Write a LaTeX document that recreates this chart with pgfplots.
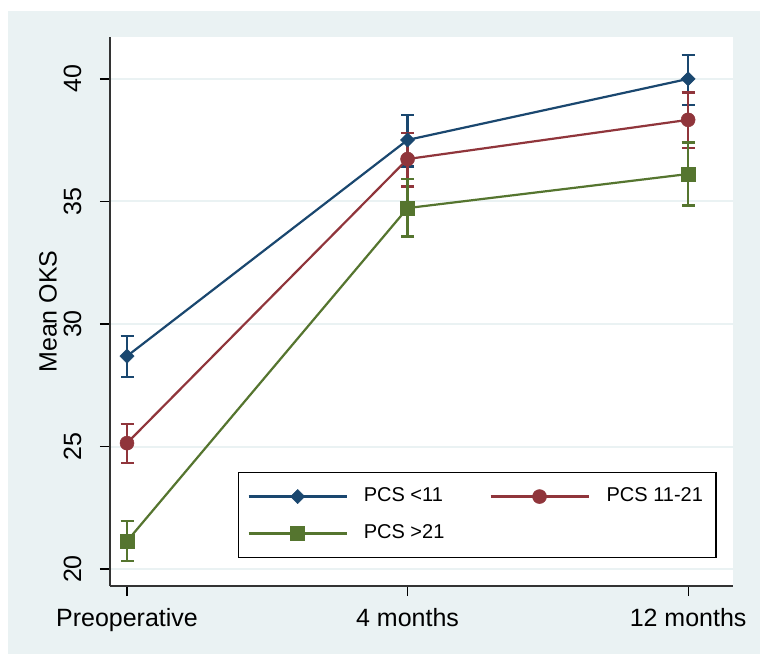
\documentclass[border=0pt]{standalone}
\usepackage{fontspec}
\setmainfont{Liberation Sans}
\usepackage{pgfplots}
\pgfplotsset{compat=1.18}
\definecolor{sbg}{RGB}{234,242,243}
\definecolor{snavy}{RGB}{26,71,111}
\definecolor{smaroon}{RGB}{144,53,59}
\definecolor{sgreen}{RGB}{85,117,47}
\begin{document}
\begin{tikzpicture}[x=1pt,y=1pt]
\path[use as bounding box] (0,0) rectangle (760,654);
\fill[white] (0,0) rectangle (760,654);
\fill[sbg] (8,0) rectangle (760,643);
\begin{axis}[
  at={(110pt,68pt)}, anchor=south west,
  scale only axis, width=623pt, height=549pt,
  xmin=-0.0606, xmax=2.160, ymin=19.31, ymax=41.71,
  axis background/.style={fill=white},
  axis lines*=left,
  axis line style={-, line width=1.6pt, color=black!80},
  xtick={0,1,2}, xticklabels={Preoperative,4 months,12 months},
  ytick={20,25,30,35,40},
  tick align=outside, major tick length=10pt,
  tick style={line width=1.2pt, black},
  ymajorgrids, grid style={sbg, line width=2pt},
  /pgf/number format/assume math mode=true,
  ticklabel style={font=\fontsize{25}{30}\selectfont},
  xticklabel style={yshift=-9pt},
  yticklabel style={xshift=-15pt, rotate=90, anchor=south},
  ylabel={Mean OKS},
  ylabel style={at={(axis description cs:-0.085,0.5)}, anchor=south, inner sep=0pt, font=\fontsize{25}{30}\selectfont},
  legend style={at={(axis description cs:0.2055,0.2077)}, anchor=north west, draw=black, line width=1.2pt, fill=white,
    font=\fontsize{20}{24}\selectfont, inner xsep=9pt, inner ysep=11pt, row sep=11pt,
    nodes={inner sep=4pt, text height=14pt, text depth=4pt},
    /tikz/column 1/.style={column sep=12pt},
    /tikz/column 2/.style={column sep=41pt},
    /tikz/column 3/.style={column sep=13pt},
    /tikz/column 4/.style={column sep=0pt}},
  legend columns=2,
  legend cell align=left,
  legend image code/.code={\draw[mark repeat=2, mark phase=2, #1, line width=2.2pt] plot coordinates {(0pt,0pt) (49pt,0pt) (98pt,0pt)};},
]
\addplot[color=snavy, line width=2.2pt, mark=square*, mark size=5pt, mark options={rotate=45, solid, line width=0.5pt},
  error bars/.cd, y dir=both, y explicit, error mark=|, error bar style={line width=2.5pt, snavy}, error mark options={line width=2.5pt, mark size=6.5pt, snavy}]
 table[x=x, y=y, y error plus=ep, y error minus=em] {
 x y ep em
 0 28.69 0.82 0.85
 1 37.51 1.02 1.09
 2 40.00 0.98 1.06
 };
\addlegendentry{PCS <11}
\addplot[color=smaroon, line width=2.2pt, mark=*, mark size=7pt, mark options={solid, line width=0.5pt},
  error bars/.cd, y dir=both, y explicit, error mark=|, error bar style={line width=2.5pt, smaroon}, error mark options={line width=2.5pt, mark size=6.5pt, smaroon}]
 table[x=x, y=y, y error plus=ep, y error minus=em] {
 x y ep em
 0 25.14 0.78 0.81
 1 36.73 1.07 1.13
 2 38.33 1.11 1.15
 };
\addlegendentry{PCS 11-21}
\addplot[color=sgreen, line width=2.2pt, mark=square*, mark size=7pt, mark options={solid, line width=0.5pt},
  error bars/.cd, y dir=both, y explicit, error mark=|, error bar style={line width=2.5pt, sgreen}, error mark options={line width=2.5pt, mark size=6.5pt, sgreen}]
 table[x=x, y=y, y error plus=ep, y error minus=em] {
 x y ep em
 0 21.14 0.82 0.81
 1 34.73 1.19 1.17
 2 36.12 1.28 1.29
 };
\addlegendentry{PCS >21}
\end{axis}
\end{tikzpicture}
\end{document}
